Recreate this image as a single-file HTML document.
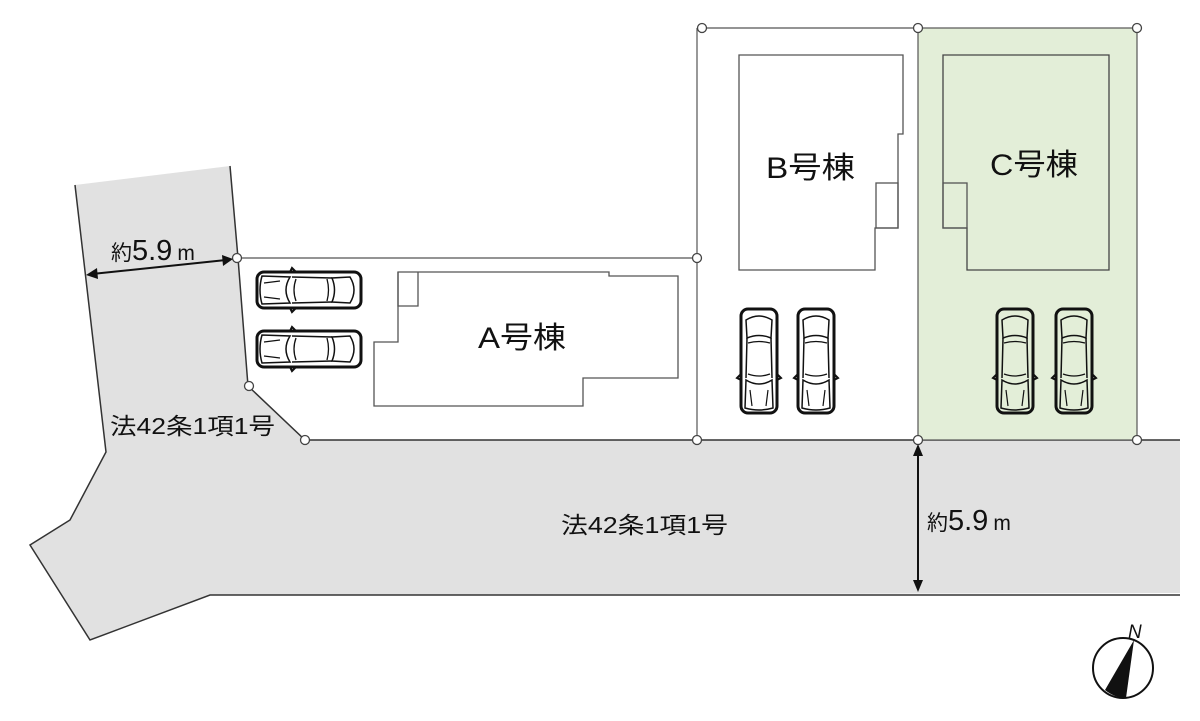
<!DOCTYPE html>
<html><head><meta charset="utf-8"><style>
html,body{margin:0;padding:0;background:#fff;}
svg{display:block}
text{font-family:"Liberation Sans","Noto Sans CJK JP",sans-serif;fill:#111}
</style></head><body>
<svg width="1200" height="721" viewBox="0 0 1200 721" xmlns="http://www.w3.org/2000/svg">
<defs>
<g id="car" fill="none" stroke="#111">
  <rect x="1" y="1" width="36" height="104" rx="7" stroke-width="3"/>
  <path d="M6 12 Q19 4 32 12 L31 30 Q19 25 7 30 Z" stroke-width="1.5"/>
  <path d="M7 30 L6 70 M31 30 L32 70" stroke-width="1.5"/>
  <path d="M8 35 Q19 32 30 35 M8 66 Q19 70 30 66" stroke-width="1.3"/>
  <path d="M6 72 Q19 80 32 72 L33 100 Q19 104 5 100 Z" stroke-width="1.5"/>
  <path d="M10 82 L12 98 M28 82 L26 98" stroke-width="1.2"/>
  <path d="M1 66 L-3 70 L1 72 M37 66 L41 70 L37 72" stroke-width="2"/>
</g>
</defs>
<path d="M75,185 L230,166 L238,258 L248,386 L305,440 L1180,440 L1180,593 L210,595 L90,640 L30,545 L70,520 L106,452 Z" fill="#e1e1e1" stroke="none"/>
<path d="M75,185 L106,452 L70,520 L30,545 L90,640 L210,595 L1180,595" fill="none" stroke="#333" stroke-width="1.5"/>
<path d="M230,166 L238,258 L248,386 L305,440 L1180,440" fill="none" stroke="#333" stroke-width="1.5"/>
<rect x="918" y="28" width="219" height="412" fill="#e3eed8" stroke="#555" stroke-width="1.2"/>
<path d="M238,258 L697,258 M697,28 L918,28 M697,28 L697,440" fill="none" stroke="#555" stroke-width="1.2"/>
<path d="M398,272 L609,272 L609,276 L678,276 L678,378 L583,378 L583,406 L374,406 L374,342 L398,342 Z" fill="#fff" stroke="#555" stroke-width="1.3"/>
<path d="M398,272 L398,306 L418,306 L418,272" fill="none" stroke="#555" stroke-width="1.3"/>
<path d="M739,55 L903,55 L903,134 L898,134 L898,228 L875,228 L875,270 L739,270 Z" fill="#fff" stroke="#555" stroke-width="1.3"/>
<rect x="876" y="183" width="22" height="45" fill="none" stroke="#555" stroke-width="1.3"/>
<path d="M943,55 L1109,55 L1109,270 L967,270 L967,228 L943,228 Z" fill="#e3eed8" stroke="#444" stroke-width="1.3"/>
<rect x="943" y="183" width="24" height="45" fill="none" stroke="#555" stroke-width="1.3"/>
<text x="478" y="348" font-size="30" textLength="88" lengthAdjust="spacingAndGlyphs">A号棟</text>
<text x="766" y="178" font-size="30" textLength="89" lengthAdjust="spacingAndGlyphs">B号棟</text>
<text x="990" y="175" font-size="30" textLength="88" lengthAdjust="spacingAndGlyphs">C号棟</text>
<use href="#car" x="740" y="308"/>
<use href="#car" x="797" y="308"/>
<use href="#car" x="996" y="308"/>
<use href="#car" x="1055" y="308"/>
<use href="#car" transform="translate(362,271) rotate(90)"/>
<use href="#car" transform="translate(362,330) rotate(90)"/>
<g fill="#fff" stroke="#444" stroke-width="1.3">
<circle cx="237" cy="258" r="4.5"/><circle cx="249" cy="386" r="4.5"/><circle cx="305" cy="440" r="4.5"/>
<circle cx="697" cy="258" r="4.5"/><circle cx="697" cy="440" r="4.5"/><circle cx="702" cy="28" r="4.5"/>
<circle cx="918" cy="28" r="4.5"/><circle cx="1137" cy="28" r="4.5"/><circle cx="918" cy="440" r="4.5"/><circle cx="1137" cy="440" r="4.5"/>
</g>
<g stroke="#111" stroke-width="2" fill="#111">
<line x1="92" y1="274" x2="226" y2="260"/>
<path d="M86,275 L97,268 L98,279 Z" stroke="none"/>
<path d="M233,259 L222,255 L223,266 Z" stroke="none"/>
<line x1="918" y1="452" x2="918" y2="583"/>
<path d="M918,444 L913,456 L923,456 Z" stroke="none"/>
<path d="M918,592 L913,580 L923,580 Z" stroke="none"/>
</g>
<text x="111" y="260" font-size="21">約<tspan font-size="29">5.9</tspan><tspan font-size="21" dx="5">m</tspan></text>
<text x="927" y="530" font-size="21">約<tspan font-size="29">5.9</tspan><tspan font-size="21" dx="5">m</tspan></text>
<text x="110" y="434" font-size="23" textLength="165" lengthAdjust="spacingAndGlyphs">法42条1項1号</text>
<text x="561" y="533" font-size="23" textLength="167" lengthAdjust="spacingAndGlyphs">法42条1項1号</text>
<circle cx="1123" cy="668" r="30" fill="#fff" stroke="#111" stroke-width="2"/>
<path d="M1134,640 L1105,690 Q1115,698 1126,698 Z" fill="#111"/>
<text x="1128" y="638" font-size="19" font-style="italic">N</text>
</svg>
</body></html>
